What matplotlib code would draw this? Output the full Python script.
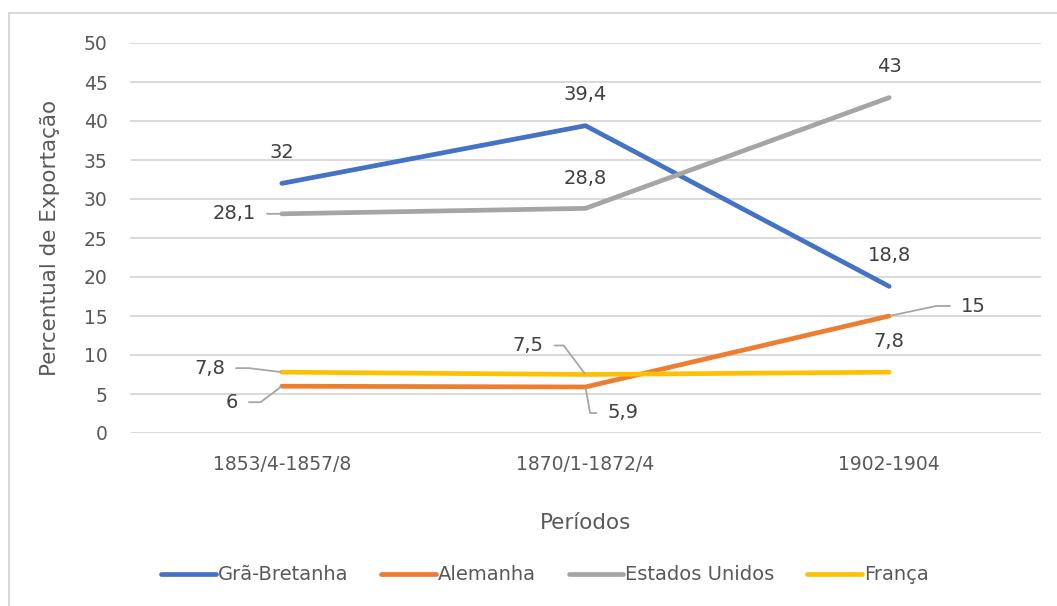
import matplotlib.pyplot as plt
from matplotlib.lines import Line2D

periodos = ['1853/4-1857/8', '1870/1-1872/4', '1902-1904']
gra_bretanha = [32, 39.4, 18.8]
alemanha = [6, 5.9, 15]
estados_unidos = [28.1, 28.8, 43]
franca = [7.8, 7.5, 7.8]

series = [
	('Grã-Bretanha', gra_bretanha, '#4472C4'),
	('Alemanha', alemanha, '#ED7D31'),
	('Estados Unidos', estados_unidos, '#A5A5A5'),
	('França', franca, '#FFC000'),
]

# label placement per point: (dx px, dy px, ha, leader connectionstyle or None)
above = (0, 31, 'center', None)
placement = {
	'Grã-Bretanha': [above, above, above],
	'Alemanha': [(-44, -16, 'right', 'angle,angleA=0,angleB=37'),
				 (22, -26, 'left', 'angle,angleA=180,angleB=100'),
				 (72, 10, 'left', 'angle,angleA=180,angleB=12')],
	'Estados Unidos': [(-26, 0, 'right', 'arc3'), (0, 30, 'center', None), above],
	'França': [(-57, 4, 'right', 'angle,angleA=0,angleB=173'),
			   (-42, 29, 'right', 'angle,angleA=0,angleB=127'),
			   above],
}

plt.rcParams['font.family'] = ['DejaVu Sans']
txt = '#595959'

fig = plt.figure(figsize=(10.57, 6.06), dpi=100)
ax = fig.add_axes([130 / 1057, 1 - 433 / 606, 911 / 1057, 390 / 606])

x = list(range(len(periodos)))
for name, vals, col in series:
	ax.plot(x, vals, color=col, linewidth=3.4, solid_capstyle='round', label=name, zorder=3)

for name, vals, col in series:
	for i, v in enumerate(vals):
		dx, dy, ha, conn = placement[name][i]
		lab = ('%g' % v).replace('.', ',')
		if conn is None:
			ax.annotate(lab, (i, v), xytext=(dx, dy), textcoords='offset pixels',
						ha=ha, va='center', fontsize=14, color='#404040', zorder=4)
		else:
			ax.annotate(lab, (i, v), xytext=(dx, dy), textcoords='offset pixels',
						ha=ha, va='center', fontsize=14, color='#404040', zorder=4,
						arrowprops=dict(arrowstyle='-', color='#A6A6A6', lw=1.3,
										connectionstyle=conn, shrinkA=6, shrinkB=1))

ax.set_xlim(-0.5, 2.5)
ax.set_ylim(0, 50)
ax.set_yticks(range(0, 51, 5))
ax.set_xticks(x)
ax.set_xticklabels(periodos)
ax.grid(axis='y', color='#D9D9D9', linewidth=1.4, zorder=0)
ax.set_axisbelow(True)
for s in ax.spines.values():
	s.set_visible(False)
ax.tick_params(axis='both', length=0, labelsize=13.5, labelcolor=txt)
ax.tick_params(axis='y', pad=16)
ax.tick_params(axis='x', pad=16)

ax.set_ylabel('Percentual de Exportação', fontsize=15.5, color=txt, labelpad=17)
ax.set_xlabel('Períodos', fontsize=15.5, color=txt, labelpad=28)

handles = [Line2D([0], [0], color=c, lw=3.4, solid_capstyle='round') for _, _, c in series]
fig.legend(handles, [n for n, _, _ in series], loc='center', bbox_to_anchor=(545 / 1057, 1 - 575 / 606),
		   ncol=4, frameon=False, fontsize=14, labelcolor=txt, handlelength=2.8,
		   handletextpad=0.1, columnspacing=1.7)

# outer chart border
fig.add_artist(Line2D([9 / 1057, 1], [1 - 13 / 606, 1 - 13 / 606], color='#D9D9D9', lw=1.5))
fig.add_artist(Line2D([9 / 1057, 9 / 1057], [1 - 13 / 606, 0], color='#D9D9D9', lw=1.5))

fig.savefig('out.png', dpi=100)
